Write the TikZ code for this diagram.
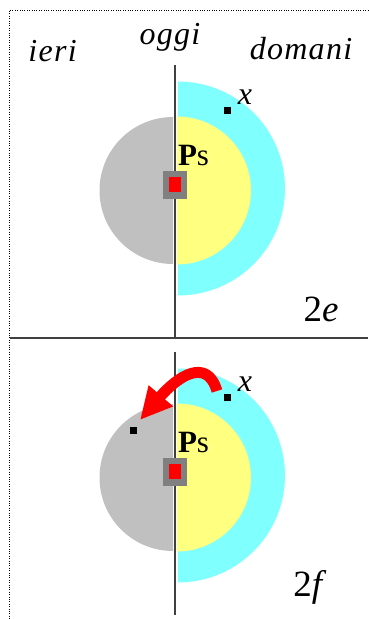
\documentclass[tikz,border=0pt]{standalone}
\usepackage{fontspec}
\setmainfont{Liberation Serif}
\newfontfamily\wordfont[LetterSpace=4]{Liberation Serif}
\usetikzlibrary{arrows.meta}
\definecolor{futcyan}{HTML}{80FFFF}
\definecolor{nowyellow}{HTML}{FFFF80}
\definecolor{pastgray}{HTML}{C0C0C0}
\definecolor{boxgray}{HTML}{808080}
\definecolor{axisgray}{HTML}{404040}
\tikzset{
	word/.style={font=\fontsize{32}{32}\selectfont\wordfont\itshape, anchor=base, inner sep=0pt},
	tag/.style={font=\fontsize{37}{37}\selectfont, anchor=base, inner sep=0pt},
	pslabel/.style={font=\fontsize{31}{31}\selectfont, anchor=base, inner sep=0pt},
	xlabel/.style={font=\fontsize{32}{32}\selectfont\itshape, anchor=base, inner sep=0pt},
	timeline/.style={draw=axisgray, line width=2pt},
	dot/.style={fill=black, minimum size=7pt, inner sep=0pt},
	psbox/.style={fill=boxgray, minimum width=24pt, minimum height=28pt, inner sep=0pt},
	pscore/.style={fill=red, minimum width=12pt, minimum height=15pt, inner sep=0pt}
}
\begin{document}
\begin{tikzpicture}[x=1pt, y=1pt, line join=round]
				\useasboundingbox (0,0) rectangle (368,619);
				\draw[dotted] (368,609) -- (9,609) -- (9,0);
				\path
				(175,554) coordinate (topA)
				(175,281) coordinate (topB)
				(175,267) coordinate (botA)
				(175,4) coordinate (botB)
				(10,281) coordinate (sepL)
				(368,281) coordinate (sepR)
				;
				\draw[timeline] (sepL) -- (sepR);
				\node[word] (ieri) at (52.5,557) {ieri};
				\node[word] (oggi) at (170,574) {oggi};
				\node[word] (domani) at (301,559) {domani};
				\foreach \dy/\i in {0/e, -287/f}{
					\begin{scope}[yshift=\dy]
						\fill[futcyan] (178,323.5) arc (-90:90:107) -- cycle;
						\fill[nowyellow] (177,354.5) arc (-90:90:74) -- cycle;
						\fill[pastgray] (173,502) arc (90:270:73.5) -- cycle;
						\node[dot] (x\i) at (227,508.5) {};
						\node[xlabel] (xl\i) at (245,514) {x};
						\node[pslabel] (ps\i) at (193.5,453.5) {\textbf{P}s};
					\end{scope}
				}
				\draw[timeline] (topA) -- (topB);
				\draw[timeline] (botA) -- (botB);
				\foreach \dy/\i in {0/e, -287/f}{
					\begin{scope}[yshift=\dy]
						\node[psbox] (box\i) at (175,434) {};
						\node[pscore] (core\i) at (175,434.5) {};
					\end{scope}
				}
				\node[tag] (tage) at (321,297) {2\textit{e}};
				\node[tag] (tagf) at (310,22) {2\textit{f}};
				\node[dot] (yf) at (133.5,188.5) {};
				\path
				(217,228) coordinate (tail)
				(140,199) coordinate (tip)
				;
				\draw[red, line width=11pt, -{Triangle[length=32pt, width=30pt]}]
				(tail) .. controls (207,262) and (178,243) .. (tip);
			\end{tikzpicture}
\end{document}
